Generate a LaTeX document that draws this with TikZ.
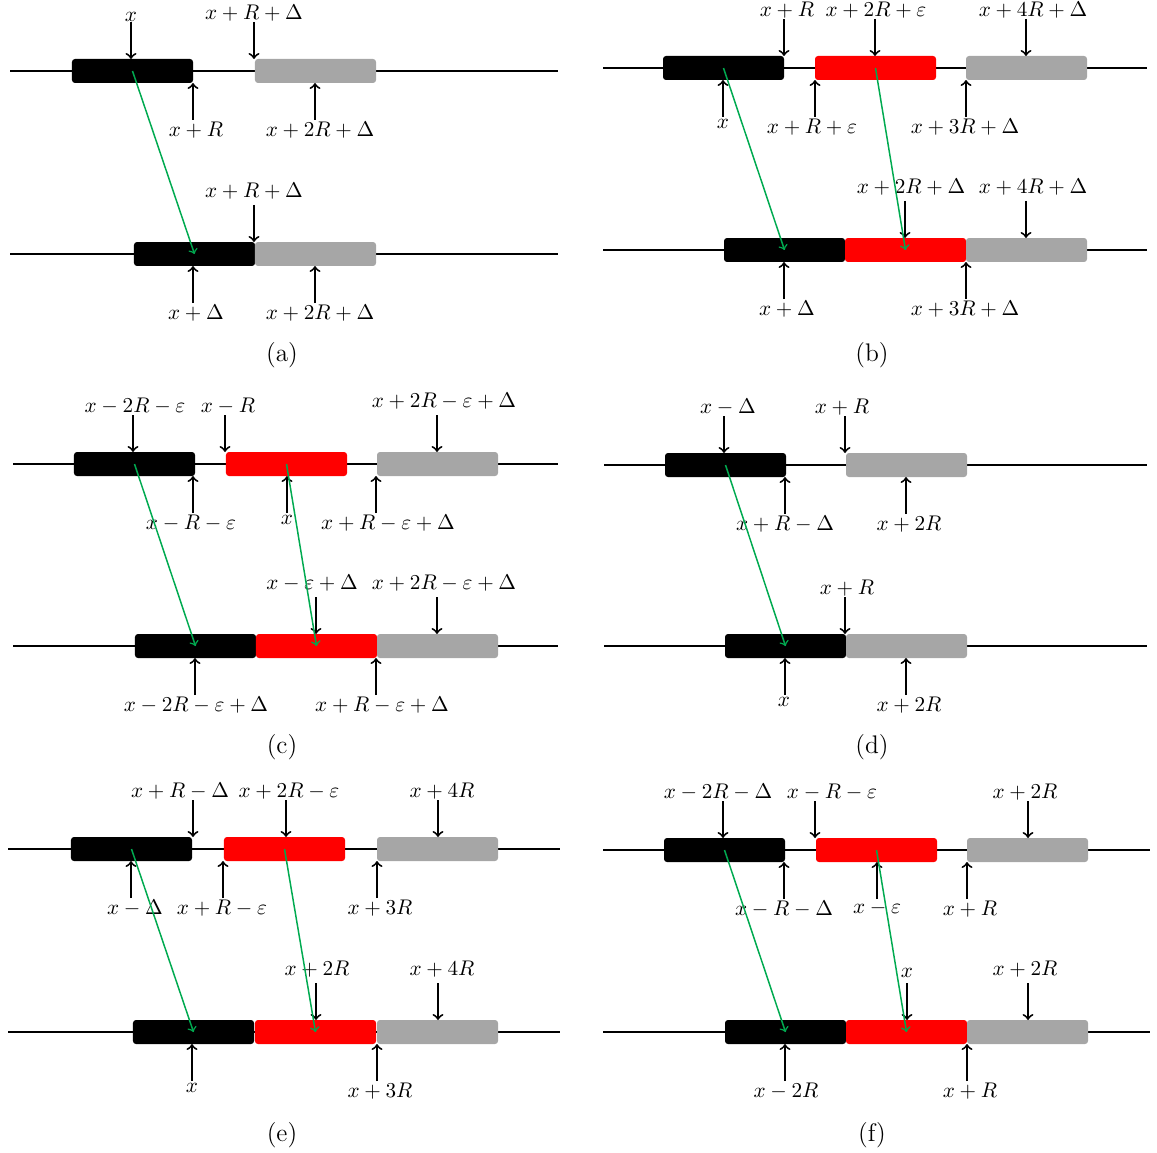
\documentclass[tikz,border=0pt]{standalone}

\definecolor{barred}{RGB}{255,0,0}
\definecolor{bargray}{RGB}{166,166,166}
\definecolor{flowgreen}{RGB}{0,170,80}

\tikzset{
  trackline/.style={line width=0.9pt},
  blockbar/.style={rectangle, rounded corners=1.4pt, inner sep=0pt, draw=none,
    minimum width=57.08pt, minimum height=11.32pt},
  blk/.style={blockbar, fill=black},
  red/.style={blockbar, fill=barred},
  gry/.style={blockbar, fill=bargray},
  pinarrow/.style={->, line width=0.9pt},
  moveflow/.style={->, line width=0.7pt, draw=flowgreen},
  labtop/.style={inner xsep=1pt, inner ysep=0.2pt},
  labbot/.style={inner xsep=1pt, inner ysep=0.7pt},
  labfar/.style={inner xsep=1pt, inner ysep=2.6pt},
  subcap/.style={font=\fontsize{12}{14}\selectfont},
}

% marker above a track: label centred at #5, arrow at #3 pointing down onto the bar
\newcommand\pindn[6][labtop]{%
  \coordinate (#2-tip) at (#3,#4-12);
  \node[#1, anchor=south] (#2) at (#5,#4-49) {$#6$};
  \draw[pinarrow] (#2-tip |- #2.south) -- (#2-tip);
}
% marker below a track: label centred at #5, arrow at #3 pointing up onto the bar
\newcommand\pinup[6][labbot]{%
  \coordinate (#2-tip) at (#3,#4+12);
  \node[#1, anchor=north] (#2) at (#5,#4+49) {$#6$};
  \draw[pinarrow] (#2-tip |- #2.north) -- (#2-tip);
}
% a block of width R whose left edge is at #3 on the track at height #4
\newcommand\block[4]{%
  \node[#1] (#2) at (#3+60.5,#4) {};
}

\begin{document}
\begin{tikzpicture}[x=0.4717pt, y=-0.4717pt]
\useasboundingbox (0,0) rectangle (1157,1153);

% ---------------- (a) ----------------
\draw[trackline] (10,71) -- (558,71);
\draw[trackline] (10,254) -- (558,254);
\block{blk}{aTk}{72}{71}
\block{gry}{aTg}{255}{71}
\block{blk}{aBk}{134}{254}
\block{gry}{aBg}{255}{254}
\pindn{a1}{131}{71}{131}{x}
\pindn{a2}{254}{71}{254}{x+R+\Delta}
\pinup{a3}{193}{71}{196}{x+R}
\pinup{a4}{315}{71}{320}{x+2R+\Delta}
\pindn[labfar]{a5}{254}{254}{254}{x+R+\Delta}
\pinup{a6}{193}{254}{196}{x+\Delta}
\pinup{a7}{315}{254}{320}{x+2R+\Delta}
\draw[moveflow] (aTk.center) -- (aBk.center);
\node[subcap] (capa) at (282,355) {(a)};

% ---------------- (b) ----------------
\draw[trackline] (603,68) -- (1147,68);
\draw[trackline] (603,250) -- (1147,250);
\block{blk}{bTk}{663}{68}
\block{red}{bTr}{815}{68}
\block{gry}{bTg}{966}{68}
\block{blk}{bBk}{724}{250}
\block{red}{bBr}{845}{250}
\block{gry}{bBg}{966}{250}
\pindn{b1}{784}{68}{787}{x+R}
\pindn{b2}{875}{68}{876}{x+2R+\varepsilon}
\pindn{b3}{1026}{68}{1033}{x+4R+\Delta}
\pinup{b4}{723}{68}{723}{x}
\pinup{b5}{815}{68}{812}{x+R+\varepsilon}
\pinup{b6}{966}{68}{965}{x+3R+\Delta}
\pindn[labfar]{b7}{905}{250}{911}{x+2R+\Delta}
\pindn[labfar]{b8}{1026}{250}{1033}{x+4R+\Delta}
\pinup{b9}{784}{250}{787}{x+\Delta}
\pinup{b10}{966}{250}{965}{x+3R+\Delta}
\draw[moveflow] (bTk.center) -- (bBk.center);
\draw[moveflow] (bTr.center) -- (bBr.center);
\node[subcap] (capb) at (872,355) {(b)};

% ---------------- (c) ----------------
\draw[trackline] (13,464) -- (558,464);
\draw[trackline] (13,646) -- (558,646);
\block{blk}{cTk}{74}{464}
\block{red}{cTr}{226}{464}
\block{gry}{cTg}{377}{464}
\block{blk}{cBk}{135}{646}
\block{red}{cBr}{256}{646}
\block{gry}{cBg}{377}{646}
\pindn{c1}{133}{464}{135}{x-2R-\varepsilon}
\pindn{c2}{225}{464}{228}{x-R}
\pindn[labfar]{c3}{437}{464}{444}{x+2R-\varepsilon+\Delta}
\pinup{c4}{193}{464}{191}{x-R-\varepsilon}
\pinup{c5}{287}{464}{287}{x}
\pinup{c6}{376}{464}{388}{x+R-\varepsilon+\Delta}
\pindn[labfar]{c7}{316}{646}{312}{x-\varepsilon+\Delta}
\pindn[labfar]{c8}{437}{646}{444}{x+2R-\varepsilon+\Delta}
\pinup{c9}{195}{646}{196}{x-2R-\varepsilon+\Delta}
\pinup{c10}{376}{646}{382}{x+R-\varepsilon+\Delta}
\draw[moveflow] (cTk.center) -- (cBk.center);
\draw[moveflow] (cTr.center) -- (cBr.center);
\node[subcap] (capc) at (282,747) {(c)};

% ---------------- (d) ----------------
\draw[trackline] (604,465) -- (1147,465);
\draw[trackline] (604,646) -- (1147,646);
\block{blk}{dTk}{665}{465}
\block{gry}{dTg}{846}{465}
\block{blk}{dBk}{725}{646}
\block{gry}{dBg}{846}{646}
\pindn{d1}{724}{465}{728}{x-\Delta}
\pindn{d2}{845}{465}{842}{x+R}
\pinup{d3}{785}{465}{785}{x+R-\Delta}
\pinup{d4}{906}{465}{909}{x+2R}
\pindn{d5}{845}{646}{847}{x+R}
\pinup{d6}{785}{646}{784}{x}
\pinup{d7}{906}{646}{909}{x+2R}
\draw[moveflow] (dTk.center) -- (dBk.center);
\node[subcap] (capd) at (872,747) {(d)};

% ---------------- (e) ----------------
\draw[trackline] (8,849) -- (560,849);
\draw[trackline] (8,1032) -- (560,1032);
\block{blk}{eTk}{71}{849}
\block{red}{eTr}{224}{849}
\block{gry}{eTg}{377}{849}
\block{blk}{eBk}{133}{1032}
\block{red}{eBr}{255}{1032}
\block{gry}{eBg}{377}{1032}
\pindn{e1}{193}{849}{180}{x+R-\Delta}
\pindn{e2}{286}{849}{289}{x+2R-\varepsilon}
\pindn{e3}{438}{849}{442}{x+4R}
\pinup{e4}{131}{849}{135}{x-\Delta}
\pinup{e5}{223}{849}{222}{x+R-\varepsilon}
\pinup{e6}{377}{849}{380}{x+3R}
\pindn[labfar]{e7}{316}{1032}{317}{x+2R}
\pindn[labfar]{e8}{438}{1032}{442}{x+4R}
\pinup{e9}{192}{1032}{192}{x}
\pinup{e10}{377}{1032}{380}{x+3R}
\draw[moveflow] (eTk.center) -- (eBk.center);
\draw[moveflow] (eTr.center) -- (eBr.center);
\node[subcap] (cape) at (282,1135) {(e)};

% ---------------- (f) ----------------
\draw[trackline] (603,850) -- (1150,850);
\draw[trackline] (603,1032) -- (1150,1032);
\block{blk}{fTk}{664}{850}
\block{red}{fTr}{816}{850}
\block{gry}{fTg}{967}{850}
\block{blk}{fBk}{725}{1032}
\block{red}{fBr}{846}{1032}
\block{gry}{fBg}{967}{1032}
\pindn{f1}{723}{850}{718}{x-2R-\Delta}
\pindn{f2}{815}{850}{832}{x-R-\varepsilon}
\pindn{f3}{1028}{850}{1025}{x+2R}
\pinup{f4}{784}{850}{784}{x-R-\Delta}
\pinup{f5}{877}{850}{877}{x-\varepsilon}
\pinup{f6}{967}{850}{970}{x+R}
\pindn[labfar]{f7}{907}{1032}{907}{x}
\pindn[labfar]{f8}{1028}{1032}{1025}{x+2R}
\pinup{f9}{785}{1032}{786}{x-2R}
\pinup{f10}{967}{1032}{970}{x+R}
\draw[moveflow] (fTk.center) -- (fBk.center);
\draw[moveflow] (fTr.center) -- (fBr.center);
\node[subcap] (capf) at (872,1135) {(f)};
\end{tikzpicture}
\end{document}
